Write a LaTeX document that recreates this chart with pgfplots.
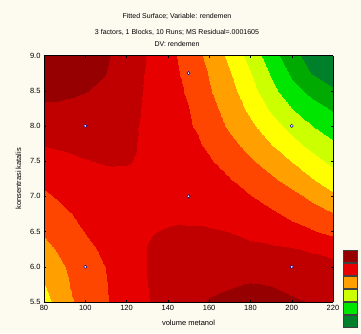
\documentclass[border=0pt]{standalone}
\usepackage{fontspec}
\setmainfont{Liberation Sans}
\usepackage{pgfplots}
\pgfplotsset{compat=1.18}
\definecolor{bgc}{RGB}{253,250,240}
\definecolor{c0}{RGB}{0,128,42}
\definecolor{c1}{RGB}{0,170,0}
\definecolor{c2}{RGB}{0,230,0}
\definecolor{c3}{RGB}{204,255,0}
\definecolor{c4}{RGB}{255,255,0}
\definecolor{c5}{RGB}{255,160,0}
\definecolor{c6}{RGB}{255,70,0}
\definecolor{c7}{RGB}{230,0,0}
\definecolor{c8}{RGB}{192,0,0}
\definecolor{c9}{RGB}{150,0,0}
\begin{document}
\begin{tikzpicture}[x=1pt,y=1pt]
\fill[bgc] (0,0) rectangle (361,333);
\path[use as bounding box] (0,0) rectangle (361,333);
\node[font=\fontsize{7}{8}\selectfont] at (177,317) {Fitted Surface; Variable: rendemen};
\node[font=\fontsize{7}{8}\selectfont] at (177,301) {3 factors, 1 Blocks, 10 Runs; MS Residual=.0001605};
\node[font=\fontsize{7}{8}\selectfont] at (177,289) {DV: rendemen};
\begin{axis}[
  at={(44pt,31pt)}, anchor=south west,
  scale only axis, width=289pt, height=246.5pt,
  view={0}{90},
  xmin=80, xmax=220, ymin=5.5, ymax=9.0,
  enlargelimits=false,
  xtick={80,100,...,220},
  ytick={5.5,6.0,6.5,7.0,7.5,8.0,8.5,9.0},
  yticklabel style={/pgf/number format/.cd, fixed, fixed zerofill, precision=1},
  /pgf/number format/assume math mode=true,
  ticklabel style={font=\fontsize{7.5}{8}\selectfont},
  xlabel={volume metanol}, ylabel={konsentrasi katalis},
  label style={font=\fontsize{7.5}{9}\selectfont},
  xlabel style={yshift=-2pt},
  ylabel style={yshift=2pt},
  tick align=inside, major tick length=2pt,
  tick style={black, line width=0.4pt},
  axis line style={black, line width=0.5pt},
  axis on top,
  colormap={cont}{rgb255(0)=(0,128,42) rgb255(1)=(0,170,0) rgb255(2)=(0,230,0) rgb255(3)=(204,255,0) rgb255(4)=(255,255,0) rgb255(5)=(255,160,0) rgb255(6)=(255,70,0) rgb255(7)=(230,0,0) rgb255(8)=(192,0,0) rgb255(9)=(150,0,0) rgb255(10)=(150,0,0)},
  colormap access=piecewise constant,
  point meta min=0, point meta max=10,
]
\addplot3[surf, shader=interp, mesh/cols=15] table {
x y z
80 5.5 4.6
90 5.5 5.7
100 5.5 6.39
110 5.5 6.94
120 5.5 7.45
130 5.5 7.95
140 5.5 8.35
150 5.5 8.73
160 5.5 9.06
170 5.5 9.2
180 5.5 9.28
190 5.5 9.22
200 5.5 9.1
210 5.5 8.97
220 5.5 8.7

80 5.75 4.97
90 5.75 5.86
100 5.75 6.44
110 5.75 6.97
120 5.75 7.48
130 5.75 7.99
140 5.75 8.3
150 5.75 8.58
160 5.75 8.8
170 5.75 8.93
180 5.75 9.03
190 5.75 8.97
200 5.75 8.8
210 5.75 8.65
220 5.75 8.55

80 6.0 5.35
90 6.0 5.99
100 6.0 6.5
110 6.0 7.02
120 6.0 7.52
130 6.0 8.02
140 6.0 8.2
150 6.0 8.41
160 6.0 8.58
170 6.0 8.59
180 6.0 8.58
190 6.0 8.51
200 6.0 8.4
210 6.0 8.35
220 6.0 8.3

80 6.25 5.73
90 6.25 6.26
100 6.25 6.76
110 6.25 7.2
120 6.25 7.61
130 6.25 8.01
140 6.25 8.13
150 6.25 8.25
160 6.25 8.34
170 6.25 8.29
180 6.25 8.24
190 6.25 8.15
200 6.25 8.06
210 6.25 7.89
220 6.25 7.64

80 6.5 6.1
90 6.5 6.56
100 6.5 7.02
110 6.5 7.33
120 6.5 7.64
130 6.5 7.96
140 6.5 8.05
150 6.5 8.1
160 6.5 8.1
170 6.5 7.99
180 6.5 7.76
190 6.5 7.54
200 6.5 7.31
210 6.5 7.09
220 6.5 6.79

80 6.75 6.48
90 6.75 6.89
100 6.75 7.2
110 6.75 7.4
120 6.75 7.55
130 6.75 7.8
140 6.75 7.88
150 6.75 7.82
160 6.75 7.72
170 6.75 7.6
180 6.75 7.4
190 6.75 7.15
200 6.75 6.8
210 6.75 6.41
220 6.75 6.03

80 7.0 6.85
90 7.0 7.2
100 7.0 7.42
110 7.0 7.57
120 7.0 7.65
130 7.0 7.67
140 7.0 7.63
150 7.0 7.53
160 7.0 7.4
170 7.0 7.23
180 7.0 7.03
190 7.0 6.65
200 7.0 6.26
210 7.0 5.79
220 7.0 5.17

80 7.25 7.24
90 7.25 7.45
100 7.25 7.63
110 7.25 7.76
120 7.25 7.8
130 7.25 7.72
140 7.25 7.6
150 7.25 7.45
160 7.25 7.26
170 7.25 7.02
180 7.25 6.59
190 7.25 6.14
200 7.25 5.61
210 7.25 5.03
220 7.25 4.43

80 7.5 7.65
90 7.5 7.8
100 7.5 7.96
110 7.5 8.08
120 7.5 8.06
130 7.5 7.83
140 7.5 7.58
150 7.5 7.33
160 7.5 7.08
170 7.5 6.65
180 7.5 6.13
190 7.5 5.56
200 7.5 4.96
210 7.5 4.34
220 7.5 3.75

80 7.75 8.05
90 7.75 8.15
100 7.75 8.23
110 7.75 8.25
120 7.75 8.15
130 7.75 7.83
140 7.75 7.53
150 7.75 7.23
160 7.75 6.86
170 7.75 6.26
180 7.75 5.63
190 7.75 4.99
200 7.75 4.29
210 7.75 3.68
220 7.75 3.13

80 8.0 8.45
90 8.0 8.51
100 8.0 8.49
110 8.0 8.44
120 8.0 8.21
130 8.0 7.83
140 8.0 7.48
150 8.0 7.12
160 8.0 6.52
170 8.0 5.83
180 8.0 5.2
190 8.0 4.42
200 8.0 3.66
210 8.0 3.01
220 8.0 2.5

80 8.25 8.85
90 8.25 8.84
100 8.25 8.76
110 8.25 8.64
120 8.25 8.31
130 8.25 7.85
140 8.25 7.44
150 8.25 7.03
160 8.25 6.32
170 8.25 5.57
180 8.25 4.77
190 8.25 3.83
200 8.25 2.98
210 8.25 2.4
220 8.25 1.86

80 8.5 9.26
90 8.5 9.15
100 8.5 9.03
110 8.5 8.83
120 8.5 8.4
130 8.5 7.88
140 8.5 7.4
150 8.5 6.88
160 8.5 6.09
170 8.5 5.31
180 8.5 4.39
190 8.5 3.31
200 8.5 2.38
210 8.5 1.69
220 8.5 1.14

80 8.75 9.66
90 8.75 9.44
100 8.75 9.23
110 8.75 9.01
120 8.75 8.47
130 8.75 7.92
140 8.75 7.36
150 8.75 6.72
160 8.75 5.94
170 8.75 5.05
180 8.75 4.05
190 8.75 2.89
200 8.75 1.81
210 8.75 0.95
220 8.75 0.45

80 9.0 9.9
90 9.0 9.74
100 9.0 9.42
110 9.0 9.1
120 9.0 8.58
130 9.0 7.97
140 9.0 7.29
150 9.0 6.57
160 9.0 5.75
170 9.0 4.74
180 9.0 3.67
190 9.0 2.46
200 9.0 1.37
210 9.0 0.54
220 9.0 0.05
};
\addplot3[only marks, mark=*, mark size=1.6pt, mark options={fill=white, draw=blue!55!black, line width=0.5pt}] coordinates {
(100,8.0,10) (150,8.75,10) (200,8.0,10) (150,7.0,10) (100,6.0,10) (200,6.0,10)
};
\end{axis}
\foreach \c/\yy in {c9/71, c7/58, c5/45, c3/32, c2/19, c0/6} {
  \filldraw[fill=\c, draw=black!75, line width=0.5pt] (343,\yy) rectangle (357,\yy+12);
}
\end{tikzpicture}
\end{document}
